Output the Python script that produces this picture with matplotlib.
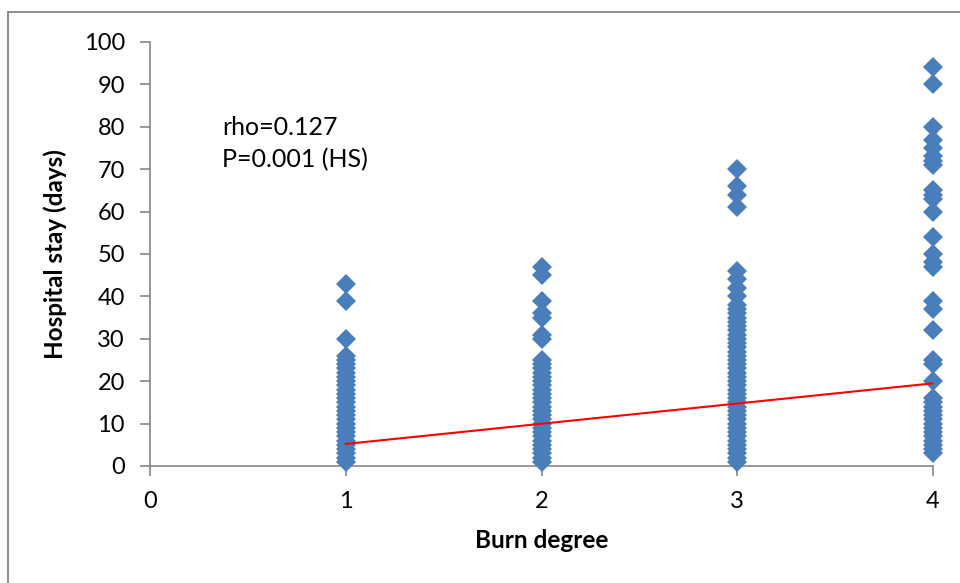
import matplotlib.pyplot as plt
from matplotlib.lines import Line2D

# Hospital stay (days), one list per burn degree
degrees = [1, 2, 3, 4]
stay_deg1 = [43, 39, 30, 26, 25, 24, 23, 22, 21, 20, 19, 18, 17, 16, 15, 14,
             13, 12, 11, 10, 9, 8, 7, 6, 5, 4, 3, 2, 1]
stay_deg2 = [47, 45, 39, 36, 35, 31, 30, 25, 24, 23, 22, 21, 20, 19, 18, 17,
             16, 15, 14, 13, 12, 11, 10, 9, 8, 7, 6, 5, 4, 3, 2, 1]
stay_deg3 = [70, 66, 64, 61, 46, 44, 42, 40, 38, 37, 36, 35, 34, 33, 32, 31,
             30, 29, 28, 27, 26, 25, 24, 23, 22, 21, 20, 19, 18, 17, 16, 15,
             14, 13, 12, 11, 10, 9, 8, 7, 6, 5, 4, 3, 2, 1]
stay_deg4 = [94, 90, 80, 77, 75, 73, 72, 71, 65, 64, 63, 60, 54, 50, 48, 47,
             39, 37, 32, 25, 24, 20, 16, 15, 14, 13, 12, 11, 10, 9, 8, 7, 6,
             5, 4, 3]

# linear trend line end points
trend_x = [1, 4]
trend_y = [5.2, 19.5]

stats_text = "rho=0.127\nP=0.001 (HS)"

plt.rcParams['font.family'] = ['Lato', 'DejaVu Sans']

fig = plt.figure(figsize=(9.6, 5.83), dpi=100)
ax = fig.add_axes([150 / 960, 1 - 466 / 583, (933 - 150) / 960, (466 - 42) / 583])

blue = '#4A7EBB'
for deg, vals in zip(degrees, [stay_deg1, stay_deg2, stay_deg3, stay_deg4]):
    ax.plot([deg] * len(vals), vals, linestyle='none', marker='D',
            markersize=10, color=blue, markeredgewidth=0, clip_on=False,
            zorder=3)

ax.plot(trend_x, trend_y, color='#FF0000', linewidth=1.5, zorder=4)

ax.text(0.37, 76, stats_text, fontsize=18, va='center', ha='left',
        linespacing=1.45)

ax.set_xlim(0, 4)
ax.set_ylim(0, 100)
ax.set_xticks([0, 1, 2, 3, 4])
ax.set_yticks(range(0, 101, 10))
ax.tick_params(axis='both', direction='out', length=7, width=1.2,
               color='#868686', labelsize=17, pad=11)

for side in ['top', 'right']:
    ax.spines[side].set_visible(False)
for side in ['left', 'bottom']:
    ax.spines[side].set_color('#868686')
    ax.spines[side].set_linewidth(1.2)

ax.set_xlabel('Burn degree', fontsize=17.5, fontweight='bold', labelpad=12)
ax.set_ylabel('Hospital stay (days)', fontsize=17.5, fontweight='bold', labelpad=12)

# outer chart frame (only top and left edges visible in the crop)
fig.add_artist(Line2D([8 / 960, 8 / 960], [1 - 12 / 583, 0], transform=fig.transFigure,
                      color='#868686', linewidth=1.3))
fig.add_artist(Line2D([8 / 960, 1], [1 - 12 / 583, 1 - 12 / 583], transform=fig.transFigure,
                      color='#868686', linewidth=1.3))

fig.savefig('out.png', dpi=100)
